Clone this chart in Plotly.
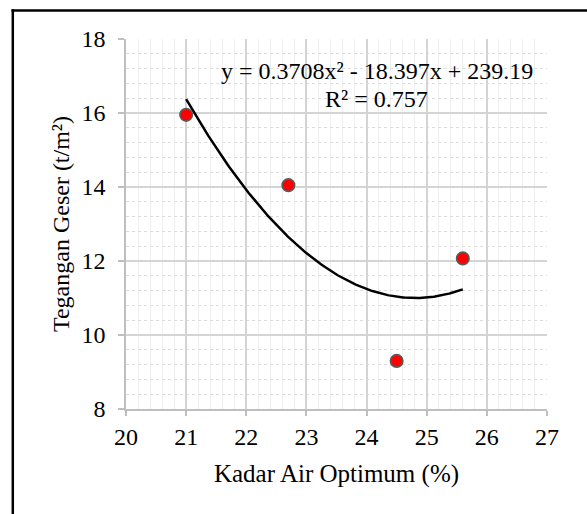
import numpy as np
import plotly.graph_objects as go

# Observed data: optimum water content vs shear stress
kadar_air = [21.0, 22.7, 24.5, 25.6]
tegangan_geser = [15.95, 14.05, 9.30, 12.07]

# Polynomial trendline (order 2) as reported on the chart
coef_a, coef_b, coef_c = 0.3708, -18.397, 239.19
r_squared = 0.757

x_ticks = [20, 21, 22, 23, 24, 25, 26, 27]
y_ticks = [8, 10, 12, 14, 16, 18]

x_trend = np.linspace(min(kadar_air), max(kadar_air), 200)
y_trend = coef_a * x_trend**2 + coef_b * x_trend + coef_c

FONT = "Liberation Serif, Times New Roman, serif"

fig = go.Figure()

fig.add_trace(go.Scatter(
    x=x_trend, y=y_trend, mode="lines",
    line=dict(color="black", width=2.5),
    hoverinfo="skip", showlegend=False,
))

fig.add_trace(go.Scatter(
    x=kadar_air, y=tegangan_geser, mode="markers",
    marker=dict(color="#ff0000", size=12.5, line=dict(color="#5a5a5a", width=1.6)),
    showlegend=False,
))

eq_text = f"y = {coef_a}x² - {abs(coef_b)}x + {coef_c}"
fig.add_annotation(x=24.17, y=17.14, text=eq_text, showarrow=False,
                   xanchor="center", yanchor="middle",
                   font=dict(family=FONT, size=24, color="black"))
fig.add_annotation(x=24.17, y=16.38, text=f"R² = {r_squared}", showarrow=False,
                   xanchor="center", yanchor="middle",
                   font=dict(family=FONT, size=24, color="black"))

# Outer frame lines (left and top edges)
L, R, T, B = 126, 40, 39, 105
W, H = 587, 514
pw, ph = W - L - R, H - T - B
def px_x(px):
    return (px - L) / pw
def px_y(py):
    return (H - B - py) / ph

fig.add_shape(type="line", xref="paper", yref="paper",
              x0=px_x(12.8), x1=px_x(12.8), y0=px_y(9.3), y1=px_y(530),
              line=dict(color="black", width=2.5))
fig.add_shape(type="line", xref="paper", yref="paper",
              x0=px_x(11.5), x1=px_x(600), y0=px_y(10.5), y1=px_y(10.5),
              line=dict(color="black", width=2.5))

fig.update_layout(
    width=W, height=H,
    margin=dict(l=L, r=R, t=T, b=B, pad=0),
    paper_bgcolor="white", plot_bgcolor="white",
    font=dict(family=FONT, size=23, color="black"),
    xaxis=dict(
        range=[20, 27], tickvals=x_ticks, ticktext=[str(v) for v in x_ticks],
        showgrid=True, gridcolor="#d4d4d4", gridwidth=1.5,
        minor=dict(dtick=0.2, showgrid=True, gridcolor="#efefef", gridwidth=1.2),
        showline=True, linecolor="#bfbfbf", linewidth=1.5,
        ticks="outside", ticklen=5, tickcolor="#bfbfbf", tickwidth=1.5,
        tickfont=dict(family=FONT, size=24, color="black"),
        title=dict(text="Kadar Air Optimum (%)", standoff=16,
                   font=dict(family=FONT, size=25, color="black")),
        zeroline=False,
    ),
    yaxis=dict(
        range=[8, 18], tickvals=y_ticks, ticktext=[str(v) for v in y_ticks],
        showgrid=True, gridcolor="#d4d4d4", gridwidth=1.5,
        minor=dict(dtick=0.4, showgrid=True, gridcolor="#dcdcdc", gridwidth=1,
                   griddash="dot"),
        showline=True, linecolor="#bfbfbf", linewidth=1.5,
        ticks="outside", ticklen=6, tickcolor="#bfbfbf", tickwidth=1.5,
        tickfont=dict(family=FONT, size=24, color="black"),
        ticklabelstandoff=8,
        title=dict(text="Tegangan Geser (t/m²)", standoff=5,
                   font=dict(family=FONT, size=24, color="black")),
        zeroline=False,
    ),
)

fig.write_html("out.html")
